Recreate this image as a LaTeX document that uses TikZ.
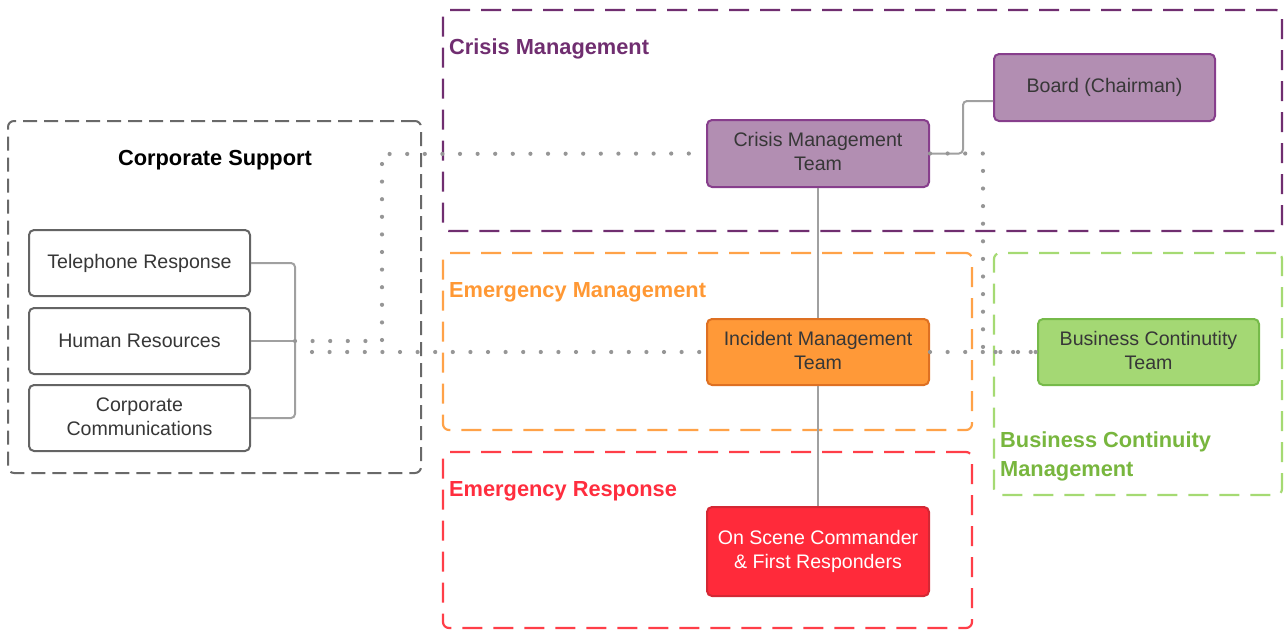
\documentclass[tikz,border=0pt]{standalone}
\usepackage{fontspec}
\setmainfont{Liberation Sans}
\usetikzlibrary{calc}
\definecolor{gframe}{RGB}{105,105,105}
\definecolor{gbox}{RGB}{100,100,100}
\definecolor{gtext}{RGB}{55,55,55}
\definecolor{conn}{RGB}{160,160,160}
\definecolor{dotc}{RGB}{150,150,150}
\definecolor{pframe}{RGB}{112,46,112}
\definecolor{pfill}{RGB}{178,142,178}
\definecolor{pborder}{RGB}{135,62,140}
\definecolor{oframe}{RGB}{255,162,72}
\definecolor{otitle}{RGB}{255,152,52}
\definecolor{ofill}{RGB}{255,153,56}
\definecolor{oborder}{RGB}{222,112,34}
\definecolor{gnframe}{RGB}{165,218,115}
\definecolor{gntitle}{RGB}{120,182,62}
\definecolor{gnfill}{RGB}{164,216,116}
\definecolor{gnborder}{RGB}{118,186,74}
\definecolor{rframe}{RGB}{255,62,72}
\definecolor{rtitle}{RGB}{255,45,62}
\definecolor{rfill}{RGB}{255,42,58}
\definecolor{rborder}{RGB}{212,40,52}
\tikzset{
  frame/.style={draw, line width=2.2pt, rounded corners=6pt, dash pattern=on 20pt off 11pt, inner sep=0pt},
  stepbox/.style={draw, line width=2pt, rounded corners=5pt, minimum width=221pt, minimum height=66pt, inner sep=0pt, align=center, font=\fontsize{19.6}{24}\selectfont, text=gtext},
  graybox/.style={stepbox, draw=gbox, fill=white},
  ttl/.style={font=\fontsize{21.8}{29}\selectfont\bfseries, inner sep=0pt, anchor=west, align=left},
  connline/.style={draw=conn, line width=2pt, rounded corners=4pt},
  dotline/.style={draw=dotc, line width=4.2pt, line cap=round, dash pattern=on 0pt off 17.6pt},
}
\begin{document}
\begin{tikzpicture}[x=1pt,y=-1pt]
\useasboundingbox (0,0) rectangle (1285,632);
% frames
\node[frame, draw=gframe, line width=2pt, dash pattern=on 14pt off 7pt, minimum width=413pt, minimum height=352pt] (csf) at (214.5,297) {};
\node[frame, draw=pframe, minimum width=839pt, minimum height=221pt] (cmf) at (862.5,120.5) {};
\node[frame, draw=oframe, minimum width=529pt, minimum height=177pt] (emf) at (707.5,341.5) {};
\node[frame, draw=gnframe, minimum width=288pt, minimum height=242pt] (bcf) at (1138,374) {};
\node[frame, draw=rframe, minimum width=529pt, minimum height=176pt] (erf) at (707.5,540) {};
% titles
\node[font=\fontsize{21.8}{29}\selectfont\bfseries, inner sep=0pt] (cst) at (215,160) {Corporate Support};
\node[ttl, text=pframe] (cmt-t) at (449,49) {Crisis Management};
\node[ttl, text=otitle] (emt-t) at (449,292) {Emergency Management};
\node[ttl, text=rtitle] (ert-t) at (449,491) {Emergency Response};
\node[ttl, text=gntitle] (bct-t) at (1000,456) {Business Continuity\\Management};
% boxes
\node[graybox] (tel) at (139.5,263) {Telephone Response};
\node[graybox] (hr) at (139.5,341) {Human Resources};
\node[graybox, text depth=2pt] (cc) at (139.5,418) {Corporate\\Communications};
\node[stepbox, fill=pfill, draw=pborder, minimum width=222pt, minimum height=67pt, text depth=4pt] (cmt) at (818,153.5) {Crisis Management\\Team};
\node[stepbox, fill=pfill, draw=pborder, minimum height=67pt] (board) at (1104.5,87.5) {Board (Chairman)};
\node[stepbox, fill=ofill, draw=oborder, minimum width=222pt, text depth=4pt] (imt) at (818,352) {Incident Management\\Team};
\node[stepbox, fill=gnfill, draw=gnborder, text depth=4pt] (bct) at (1148.5,352) {Business Continutity\\Team};
\node[stepbox, fill=rfill, draw=rborder, minimum width=222pt, minimum height=89pt, text=white] (osc) at (818,551.5) {On Scene Commander\\\& First Responders};
% coordinates
\coordinate (br) at (295,341);
\coordinate (k1) at (382,154);
\coordinate (hrd) at (312,352);
\coordinate (k2) at (983,153.5);
% solid connectors
\draw[connline] (tel.east) -| (br) |- (cc.east);
\draw[connline] (hr.east) -- (br);
\draw[connline] (cmt.east) -- ++(33,0) |- ([yshift=-13.5pt]board.west);
\draw[connline] (cmt.south) -- (imt.north);
\draw[connline] (imt.south) -- (osc.north);
% dotted connectors
\draw[dotline] (br) -| (k1) -- (cmt.west);
\draw[dotline] (hrd) -- (imt.west);
\draw[dotline] (cmt.east) -- (k2) |- (bct.west);
\draw[dotline] (imt.east) -- (bct.west);
\end{tikzpicture}
\end{document}
